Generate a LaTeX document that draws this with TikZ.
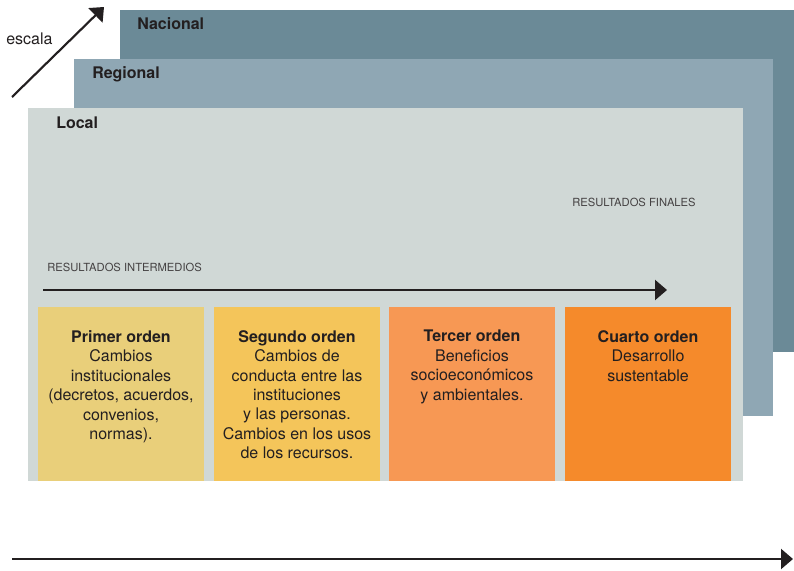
\documentclass[tikz,border=0pt]{standalone}
\usepackage{fontspec}
\setmainfont{TeX Gyre Heros}
\usetikzlibrary{arrows.meta}

\definecolor{nacional}{HTML}{6B8A97}
\definecolor{regional}{HTML}{8FA7B4}
\definecolor{local}{HTML}{D0D8D6}
\definecolor{orden1}{HTML}{E9CF7A}
\definecolor{orden2}{HTML}{F4C55A}
\definecolor{orden3}{HTML}{F79854}
\definecolor{orden4}{HTML}{F58A2B}
\definecolor{tinta}{HTML}{231F20}

\tikzset{
  capa/.style={font=\fontsize{12}{14}\selectfont\bfseries, text=tinta, anchor=base west},
  orden/.style={minimum width=124.5pt, minimum height=130.5pt},
  ordentexto/.style={font=\fontsize{12}{14.6}\selectfont, text=tinta, align=center, anchor=north},
  resultado/.style={font=\fontsize{8.4}{10}\selectfont, text=tinta!85, anchor=base west},
  flecha/.style={line width=1.6pt, draw=tinta, -{Triangle[length=9pt, width=15pt]}}
}

\begin{document}
\begin{tikzpicture}
[x=0.75pt, y=-0.75pt, every node/.style={inner sep=0pt}]
\useasboundingbox (0,0) rectangle (794,571);
\fill [nacional] (120,10) rectangle (794,352);
\fill [regional] (74,59) rectangle (773,416);
\fill [local] (28,108) rectangle (743,481);
\node (nacional) [capa] at (137,30) {Nacional};
\node (regional) [capa] at (92,79) {Regional};
\node (local) [capa] at (56,128) {Local};
\node (escala) [capa, font=\fontsize{12}{14}\selectfont] at (6,45) {escala};
\node (intermedios) [resultado] at (47,271) {RESULTADOS INTERMEDIOS};
\node (finales) [resultado] at (572,206) {RESULTADOS FINALES};
\node (o1) [orden, fill=orden1] at (121,394) {};
\node (o2) [orden, fill=orden2] at (297,394) {};
\node (o3) [orden, fill=orden3] at (472,394) {};
\node (o4) [orden, fill=orden4] at (648,394) {};
\node (t1) [ordentexto] at (121,330) {\textbf{Primer orden}\\Cambios\\institucionales\\(decretos, acuerdos,\\convenios,\\normas).};
\node (t2) [ordentexto] at (297,330) {\textbf{Segundo orden}\\Cambios de\\conducta entre las\\instituciones\\y las personas.\\Cambios en los usos\\de los recursos.};
\node (t3) [ordentexto] at (472,330) {\textbf{Tercer orden}\\Beneficios\\socioeconómicos\\y ambientales.};
\node (t4) [ordentexto] at (648,330) {\textbf{Cuarto orden}\\Desarrollo\\sustentable};
\coordinate (escala-a) at (12,97);
\coordinate (escala-b) at (104,7);
\coordinate (local-a) at (43,290);
\coordinate (local-b) at (667,290);
\coordinate (tiempo-a) at (12,559);
\coordinate (tiempo-b) at (793,559);
\draw [flecha] (escala-a) -- (escala-b);
\draw [flecha] (local-a) -- (local-b);
\draw [flecha] (tiempo-a) -- (tiempo-b);
\end{tikzpicture}
\end{document}
